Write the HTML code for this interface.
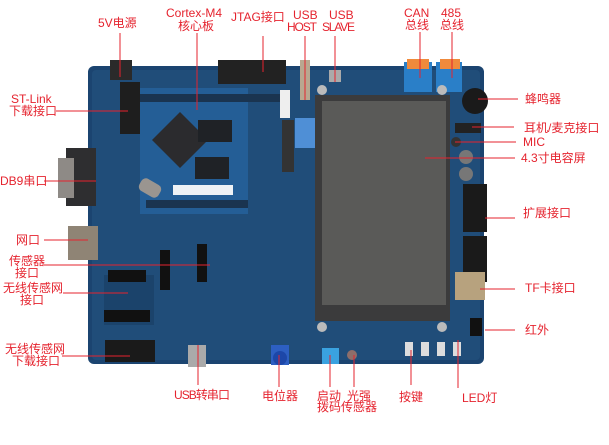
<!DOCTYPE html>
<html><head><meta charset="utf-8"><style>
html,body{margin:0;padding:0;background:#fff;}
svg{display:block}
text{font-family:"Liberation Sans","Noto Sans CJK SC",sans-serif;font-size:12px;fill:#e5232e;}
</style></head><body>
<svg width="609" height="445" viewBox="0 0 609 445" xmlns="http://www.w3.org/2000/svg">
<rect width="609" height="445" fill="#fff"/>
<!-- board -->
<rect x="88" y="66" width="396" height="298" rx="6" fill="#1b4470"/>
<rect x="92" y="70" width="388" height="290" rx="4" fill="#204d79"/>
<!-- core board -->
<rect x="140" y="88" width="108" height="126" fill="#245e96"/>
<rect x="122" y="94" width="160" height="8" fill="#1a3450"/>
<rect x="146" y="200" width="102" height="8" fill="#1a3450"/>
<polygon points="180,112 208,140 180,168 152,140" fill="#2b2b2e"/>
<rect x="198" y="120" width="34" height="22" fill="#1f2226"/>
<rect x="195" y="157" width="34" height="22" fill="#1f2226"/>
<rect x="173" y="185" width="60" height="10" fill="#eef2f6"/>
<rect x="139" y="181" width="22" height="14" rx="5" fill="#9a9590" transform="rotate(30 150 188)"/>
<!-- JTAG -->
<rect x="218" y="60" width="68" height="24" fill="#222"/>
<rect x="110" y="60" width="22" height="20" fill="#2a2a2a"/>
<rect x="120" y="82" width="20" height="52" fill="#1e1e1e"/>
<!-- usb host -->
<rect x="300" y="60" width="10" height="40" fill="#b8a890"/>
<rect x="280" y="90" width="10" height="28" fill="#eee"/>
<rect x="295" y="118" width="22" height="30" fill="#4f8fd6"/>
<rect x="282" y="120" width="12" height="52" fill="#333"/>
<rect x="329" y="70" width="12" height="12" fill="#aaa"/>
<!-- CAN/485 -->
<rect x="404" y="62" width="28" height="30" fill="#2a7fc8"/>
<rect x="407" y="59" width="22" height="10" fill="#f08a3c"/>
<rect x="436" y="62" width="26" height="30" fill="#2a7fc8"/>
<rect x="440" y="59" width="20" height="10" fill="#f08a3c"/>
<!-- buzzer etc -->
<circle cx="475" cy="101" r="13" fill="#1a1a1a"/>
<rect x="455" y="123" width="26" height="10" fill="#222"/>
<circle cx="456" cy="142" r="5" fill="#333"/>
<circle cx="466" cy="157" r="7" fill="#777"/>
<circle cx="466" cy="174" r="7" fill="#777"/>
<rect x="463" y="184" width="24" height="48" fill="#1a1a1a"/>
<rect x="463" y="236" width="24" height="46" fill="#1a1a1a"/>
<rect x="455" y="272" width="30" height="28" fill="#b7a27e"/>
<rect x="470" y="318" width="12" height="18" fill="#111"/>
<!-- LCD -->
<rect x="315" y="95" width="135" height="226" fill="#3b3b3c"/>
<rect x="322" y="101" width="124" height="204" fill="#5a5a58"/>
<circle cx="322" cy="90" r="5" fill="#bbb"/>
<circle cx="442" cy="90" r="5" fill="#bbb"/>
<circle cx="322" cy="327" r="5" fill="#bbb"/>
<circle cx="442" cy="327" r="5" fill="#bbb"/>
<!-- left side -->
<rect x="66" y="148" width="30" height="58" fill="#2e2e30"/>
<rect x="58" y="158" width="16" height="40" fill="#8e8a86"/>
<rect x="68" y="226" width="30" height="34" fill="#8f8475"/>
<rect x="104" y="275" width="50" height="50" fill="#1b436b"/>
<rect x="108" y="270" width="38" height="12" fill="#111"/>
<rect x="104" y="310" width="46" height="12" fill="#111"/>
<rect x="105" y="340" width="50" height="22" fill="#1a1a1a"/>
<rect x="160" y="250" width="10" height="40" fill="#111"/>
<rect x="197" y="244" width="10" height="38" fill="#111"/>
<rect x="188" y="345" width="18" height="22" fill="#aaa"/>
<rect x="271" y="345" width="18" height="20" fill="#2d5fc2"/>
<circle cx="280" cy="358" r="7" fill="#1d47a8"/>
<rect x="322" y="348" width="17" height="16" fill="#3aa2e0"/>
<circle cx="352" cy="355" r="5" fill="#8e6e6a"/>
<rect x="405" y="342" width="8" height="14" fill="#ddd"/>
<rect x="421" y="342" width="8" height="14" fill="#ddd"/>
<rect x="437" y="342" width="8" height="14" fill="#ddd"/>
<rect x="453" y="342" width="8" height="14" fill="#ddd"/>
<!-- leader lines -->
<g stroke="#e5232e" stroke-width="1">
<line x1="120" y1="33" x2="120" y2="77"/>
<line x1="197" y1="33" x2="197" y2="110"/>
<line x1="263" y1="36" x2="263" y2="72"/>
<line x1="305" y1="36" x2="305" y2="100"/>
<line x1="335" y1="36" x2="335" y2="82"/>
<line x1="420" y1="32" x2="420" y2="78"/>
<line x1="452" y1="32" x2="452" y2="78"/>
<line x1="56" y1="111" x2="128" y2="111"/>
<line x1="478" y1="99" x2="518" y2="99"/>
<line x1="472" y1="127" x2="514" y2="127"/>
<line x1="455" y1="142" x2="516" y2="142"/>
<line x1="425" y1="158" x2="515" y2="158"/>
<line x1="44" y1="181" x2="96" y2="181"/>
<line x1="485" y1="218" x2="515" y2="218"/>
<line x1="44" y1="240" x2="88" y2="240"/>
<line x1="44" y1="265" x2="210" y2="265"/>
<line x1="63" y1="293" x2="128" y2="293"/>
<line x1="480" y1="289" x2="515" y2="289"/>
<line x1="485" y1="330" x2="515" y2="330"/>
<line x1="62" y1="356" x2="130" y2="356"/>
<line x1="198" y1="345" x2="198" y2="385"/>
<line x1="279" y1="355" x2="279" y2="387"/>
<line x1="330" y1="355" x2="330" y2="387"/>
<line x1="354" y1="355" x2="354" y2="387"/>
<line x1="411" y1="350" x2="411" y2="385"/>
<line x1="458" y1="340" x2="458" y2="388"/>
</g>
<!-- labels -->
<text x="98" y="27">5V电源</text>
<text x="166" y="17">Cortex-M4</text>
<text x="178" y="30">核心板</text>
<text x="231" y="21">JTAG接口</text>
<text x="293" y="19">USB</text>
<text x="287" y="31" textLength="30">HOST</text>
<text x="329" y="19">USB</text>
<text x="322" y="31" textLength="33">SLAVE</text>
<text x="404" y="17">CAN</text>
<text x="405" y="29">总线</text>
<text x="441" y="17">485</text>
<text x="440" y="29">总线</text>
<text x="11" y="103">ST-Link</text>
<text x="9" y="115">下载接口</text>
<text x="525" y="103">蜂鸣器</text>
<text x="524" y="132">耳机/麦克接口</text>
<text x="523" y="146">MIC</text>
<text x="521" y="162">4.3寸电容屏</text>
<text x="0" y="185">DB9串口</text>
<text x="523" y="217">扩展接口</text>
<text x="16" y="244">网口</text>
<text x="9" y="265">传感器</text>
<text x="15" y="277">接口</text>
<text x="3" y="292">无线传感网</text>
<text x="20" y="304">接口</text>
<text x="525" y="292">TF卡接口</text>
<text x="525" y="334">红外</text>
<text x="5" y="353">无线传感网</text>
<text x="12" y="365">下载接口</text>
<text x="174" y="399" textLength="56">USB转串口</text>
<text x="262" y="400">电位器</text>
<text x="317" y="400">启动</text>
<text x="317" y="411">拨码</text>
<text x="347" y="400">光强</text>
<text x="341" y="411">传感器</text>
<text x="399" y="401">按键</text>
<text x="462" y="402">LED灯</text>
</svg>
</body></html>
